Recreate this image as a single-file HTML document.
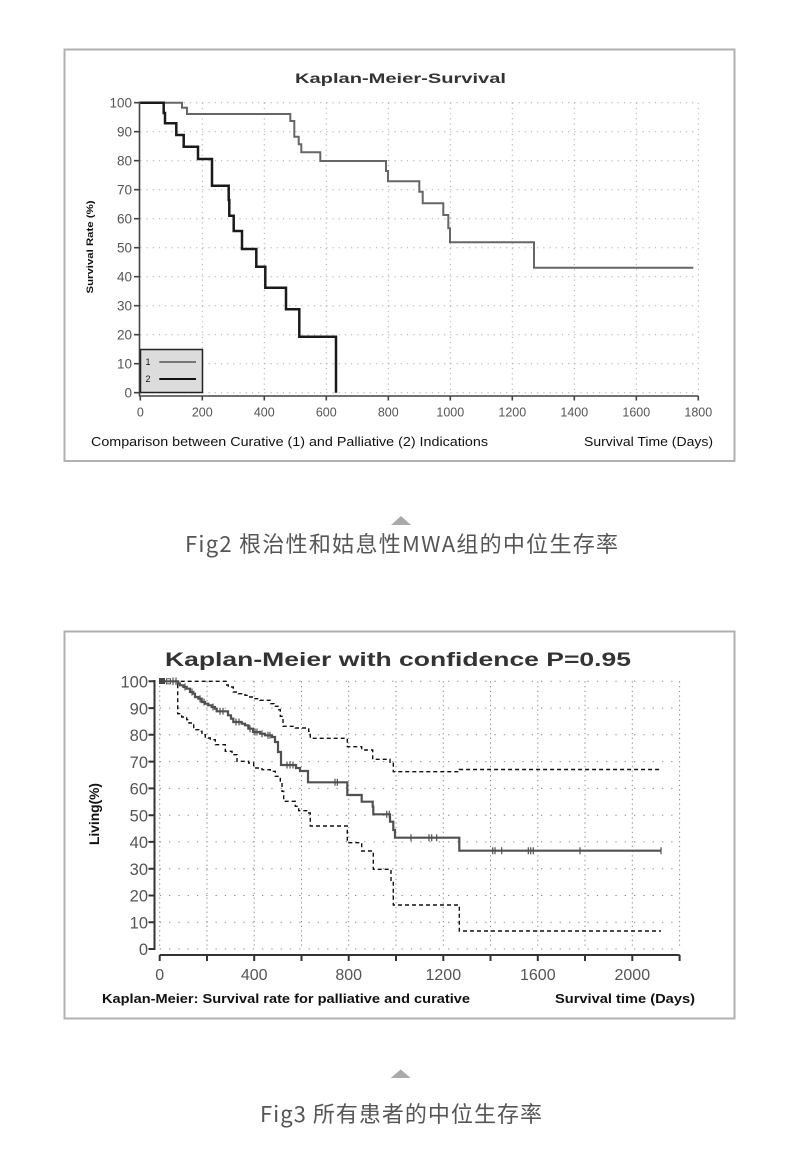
<!DOCTYPE html>
<html>
<head>
<meta charset="utf-8">
<style>
  html,body{margin:0;padding:0;background:#fff;}
  svg{display:block;}
  .t{font-family:"Liberation Sans",sans-serif;}
</style>
</head>
<body>
<svg width="800" height="1163" viewBox="0 0 800 1163" xmlns="http://www.w3.org/2000/svg">
  <rect width="800" height="1163" fill="#fff"/>

  <!-- ============ TOP CHART ============ -->
  <rect x="64.5" y="49.5" width="670" height="411.5" fill="#fff" stroke="#b0b0b0" stroke-width="2"/>

  <!-- grid -->
  <g stroke="#aaa" stroke-width="1" fill="none">
    <path stroke-dasharray="1.2 5" d="M140.3 102.7H698.3 M140.3 131.7H698.3 M140.3 160.7H698.3 M140.3 189.7H698.3 M140.3 218.7H698.3 M140.3 247.7H698.3 M140.3 276.7H698.3 M140.3 305.7H698.3 M140.3 334.7H698.3 M140.3 363.7H698.3 M140.3 392.7H698.3"/>
    <path stroke-dasharray="1.2 4" d="M202.3 102.7V392.7 M264.3 102.7V392.7 M326.3 102.7V392.7 M388.3 102.7V392.7 M450.3 102.7V392.7 M512.3 102.7V392.7 M574.3 102.7V392.7 M636.3 102.7V392.7 M698.3 102.7V392.7"/>
  </g>

  <!-- axes -->
  <g stroke="#444" stroke-width="1.6" fill="none">
    <path d="M139.5 101.5V396.5 M139.5 396H698.3"/>
    <path d="M134 102.7H139.5 M134 131.7H139.5 M134 160.7H139.5 M134 189.7H139.5 M134 218.7H139.5 M134 247.7H139.5 M134 276.7H139.5 M134 305.7H139.5 M134 334.7H139.5 M134 363.7H139.5 M134 392.7H139.5"/>
    <path d="M140.3 396V400.5 M202.3 396V400.5 M264.3 396V400.5 M326.3 396V400.5 M388.3 396V400.5 M450.3 396V400.5 M512.3 396V400.5 M574.3 396V400.5 M636.3 396V400.5 M698.3 396V400.5"/>
  </g>

  <!-- y tick labels -->
  <g class="t" font-size="13.5" fill="#555" text-anchor="end">
    <text x="132" y="107.5">100</text>
    <text x="132" y="136.5">90</text>
    <text x="132" y="165.5">80</text>
    <text x="132" y="194.5">70</text>
    <text x="132" y="223.5">60</text>
    <text x="132" y="252.5">50</text>
    <text x="132" y="281.5">40</text>
    <text x="132" y="310.5">30</text>
    <text x="132" y="339.5">20</text>
    <text x="132" y="368.5">10</text>
    <text x="132" y="397.5">0</text>
  </g>
  <!-- x tick labels -->
  <g class="t" font-size="12.5" fill="#555" text-anchor="middle">
    <text x="140.3" y="416.5">0</text>
    <text x="202.3" y="416.5">200</text>
    <text x="264.3" y="416.5">400</text>
    <text x="326.3" y="416.5">600</text>
    <text x="388.3" y="416.5">800</text>
    <text x="450.3" y="416.5">1000</text>
    <text x="512.3" y="416.5">1200</text>
    <text x="574.3" y="416.5">1400</text>
    <text x="636.3" y="416.5">1600</text>
    <text x="698.3" y="416.5">1800</text>
  </g>

  <!-- title & labels -->
  <text class="t" x="295" y="83" font-size="14" font-weight="bold" fill="#333" textLength="211" lengthAdjust="spacingAndGlyphs">Kaplan-Meier-Survival</text>
  <text class="t" transform="translate(93,247) rotate(-90)" x="-46.5" y="0" font-size="9.5" font-weight="bold" fill="#111" textLength="93" lengthAdjust="spacingAndGlyphs">Survival Rate (%)</text>
  <text class="t" x="91" y="446" font-size="13" fill="#111" textLength="397" lengthAdjust="spacingAndGlyphs">Comparison between Curative (1) and Palliative (2) Indications</text>
  <text class="t" x="584" y="446" font-size="13" fill="#111" textLength="129" lengthAdjust="spacingAndGlyphs">Survival Time (Days)</text>

  <!-- curve 1 (curative, gray) -->
  <path fill="none" stroke="#666" stroke-width="2" d="M140.3 102.7H182V107.7H187V114H290.3V121H294.3V136.7H298.7V144.3H301.3V152.3H320.3V161H386V171H388V181.3H419.3V191.7H422.7V203.3H443.3V215H448.3V228.3H450V242.3H534V267.7H693.3"/>
  <!-- curve 2 (palliative, black) -->
  <path fill="none" stroke="#1a1a1a" stroke-width="2.5" d="M140.3 102.7H163.7V113H165V123.3H176.3V135H183.7V146.7H198V159H212V185.7H228.7V200H229.3V215.7H233.7V231H242V249H256.3V266.7H265.3V287.7H286V309.3H299.3V336.7H336V392.7"/>

  <!-- legend -->
  <rect x="140.5" y="349.5" width="62" height="43" fill="#dcdcdc" stroke="#222" stroke-width="1.5"/>
  <text class="t" x="145.5" y="365" font-size="9" fill="#111">1</text>
  <path d="M159.3 362H196" stroke="#555" stroke-width="1.5"/>
  <text class="t" x="145.5" y="382" font-size="9" fill="#111">2</text>
  <path d="M159.3 379H196" stroke="#111" stroke-width="2"/>

  <!-- caption 1 -->
  <polygon points="391,525 411,525 401,516" fill="#aaaaaa"/>
  <text x="185" y="552" font-family="'Noto Sans CJK SC','Liberation Sans',sans-serif" font-size="22" font-weight="400" fill="#555" textLength="433" lengthAdjust="spacing">Fig2 根治性和姑息性MWA组的中位生存率</text>

  <!-- ============ BOTTOM CHART ============ -->
  <rect x="64.5" y="631.5" width="670" height="387" fill="#fff" stroke="#b0b0b0" stroke-width="2"/>

  <!-- grid -->
  <g stroke="#888" stroke-width="1" fill="none">
    <path stroke-dasharray="1.3 8" d="M159.7 681.3H679.6 M159.7 708.1H679.6 M159.7 734.8H679.6 M159.7 761.6H679.6 M159.7 788.4H679.6 M159.7 815.2H679.6 M159.7 841.9H679.6 M159.7 868.7H679.6 M159.7 895.5H679.6 M159.7 922.2H679.6 M159.7 949H679.6"/>
    <path stroke-dasharray="1.3 3.4" d="M159.7 681.3V949 M207 681.3V949 M254.2 681.3V949 M301.5 681.3V949 M348.7 681.3V949 M396 681.3V949 M443.3 681.3V949 M490.5 681.3V949 M537.8 681.3V949 M585 681.3V949 M632.3 681.3V949 M679.6 681.3V949"/>
  </g>

  <!-- axes -->
  <g stroke="#333" stroke-width="2" fill="none">
    <path d="M154.5 680V950"/>
    <path d="M148.5 681.3H154.5 M148.5 708.1H154.5 M148.5 734.8H154.5 M148.5 761.6H154.5 M148.5 788.4H154.5 M148.5 815.2H154.5 M148.5 841.9H154.5 M148.5 868.7H154.5 M148.5 895.5H154.5 M148.5 922.2H154.5 M148.5 949H154.5"/>
    <path d="M159.7 955H679.6"/>
    <path d="M159.7 955V961 M207 955V961 M254.2 955V961 M301.5 955V961 M348.7 955V961 M396 955V961 M443.3 955V961 M490.5 955V961 M537.8 955V961 M585 955V961 M632.3 955V961 M679.6 955V961"/>
  </g>

  <!-- y tick labels -->
  <g class="t" font-size="16.5" fill="#555" text-anchor="end">
    <text x="148" y="687.5">100</text>
    <text x="148" y="714.3">90</text>
    <text x="148" y="741">80</text>
    <text x="148" y="767.8">70</text>
    <text x="148" y="794.6">60</text>
    <text x="148" y="821.4">50</text>
    <text x="148" y="848.1">40</text>
    <text x="148" y="874.9">30</text>
    <text x="148" y="901.7">20</text>
    <text x="148" y="928.4">10</text>
    <text x="148" y="955.2">0</text>
  </g>
  <!-- x tick labels -->
  <g class="t" font-size="16" fill="#555" text-anchor="middle">
    <text x="159.7" y="980">0</text>
    <text x="254.2" y="980">400</text>
    <text x="348.7" y="980">800</text>
    <text x="443.3" y="980">1200</text>
    <text x="537.8" y="980">1600</text>
    <text x="632.3" y="980">2000</text>
  </g>

  <!-- title & labels -->
  <text class="t" x="165" y="666" font-size="19" font-weight="bold" fill="#333" textLength="466" lengthAdjust="spacingAndGlyphs">Kaplan-Meier with confidence P=0.95</text>
  <text class="t" transform="translate(99,814) rotate(-90)" x="-31" y="0" font-size="14" font-weight="bold" fill="#111" textLength="62" lengthAdjust="spacingAndGlyphs">Living(%)</text>
  <text class="t" x="102" y="1003" font-size="13" font-weight="bold" fill="#111" textLength="368" lengthAdjust="spacingAndGlyphs">Kaplan-Meier: Survival rate for palliative and curative</text>
  <text class="t" x="555" y="1003" font-size="13" font-weight="bold" fill="#111" textLength="140" lengthAdjust="spacingAndGlyphs">Survival time (Days)</text>

  <!-- upper CI -->
  <path fill="none" stroke="#111" stroke-width="1.4" stroke-dasharray="4 3" d="M159.7 681.3H226.7V685H228.3V687H233.3V692H238.3V693.7H245V695.3H248.3V697H255V698.7H260V700.3H270V703.7H274V706.3H278.7V709.7H280.3V716.3H283V726.3H295.3V728H308.7V731.3H310.3V738.3H347.3V746.7H361.7V750H372.7V759.3H390V763.3H393.3V771.7H459.3V769.5H661"/>
  <!-- lower CI -->
  <path fill="none" stroke="#111" stroke-width="1.4" stroke-dasharray="4 3" d="M159.7 681.3H177.7V713.7H181.7V717H186.7V719.7H189V723H193.7V729.7H198.7V731.3H202V734.7H205.3V738H210.3V739.7H215.3V744.7H225.3V751.3H232V754.7H237V761.3H248.7V763H253.7V768H262V769.7H270.3V771.3H275.3V776.3H280.3V783H282V791.3H283.7V801.3H295.3V806.3H298.7V810.7H308.7V813H310.3V826H347.3V842.7H361.7V851H373.3V869.3H391V881.7H393.3V905H459.3V931H661"/>

  <!-- main KM curve -->
  <path fill="none" stroke="#505050" stroke-width="2.2" d="M159.7 681.3H178V683.5H180V685.3H183.3V687H186.7V688.7H190V692H193.3V693.7H195V697H198.3V698.7H201.7V702H205V703.7H208.3V705.3H211.7V707H215V708.7H216.7V711.3H228V715.3H231V718.7H233.3V722H241.7V723.7H245V725.3H248.3V728.7H253V732H260V733.7H265V735.3H272V737H275V742H278V752H281V765H296V768H300V771H308V782.3H347.3V795H361.7V801.7H372.7V806.7H373.3V814.3H390V821.7H393.3V830H395V837.7H459.3V850.7H661"/>

  <!-- censor marks -->
  <rect x="159" y="678" width="6" height="6" fill="#444"/>
  <rect x="166.5" y="678.8" width="4" height="5" fill="none" stroke="#555" stroke-width="1"/>
  <path fill="none" stroke="#505050" stroke-width="1.2" d="
    M173 677.5V685 M176 677.5V685
    M185 683.5V690.5 M192 688.5V695.5 M200 695.2V702.2 M204 698.5V705.5
    M213 703.5V710.5 M220 707.8V714.8 M223 707.8V714.8 M236 718.5V725.5 M239 718.5V725.5
    M250 725.2V732.2 M255 728.5V735.5 M257 728.5V735.5 M262 730.2V737.2 M268 731.8V738.8 M270 731.8V738.8
    M287 761.5V768.5 M290 761.5V768.5 M293 761.5V768.5
    M335 778.8V785.8 M337.3 778.8V785.8
    M386.7 810.8V817.8 M389.3 810.8V817.8
    M411 834.2V841.2 M429 834.2V841.2 M431.7 834.2V841.2 M436.7 834.2V841.2
    M492.7 847.2V854.2 M495 847.2V854.2 M501.7 847.2V854.2
    M528.3 847.2V854.2 M530.7 847.2V854.2 M533.3 847.2V854.2
    M580 847.2V854.2 M661 847.2V854.2"/>

  <!-- caption 2 -->
  <polygon points="390.7,1078 410.7,1078 400.7,1069.5" fill="#aaaaaa"/>
  <text x="260" y="1122" font-family="'Noto Sans CJK SC','Liberation Sans',sans-serif" font-size="22" font-weight="400" fill="#555" textLength="282" lengthAdjust="spacing">Fig3 所有患者的中位生存率</text>
</svg>
</body>
</html>
